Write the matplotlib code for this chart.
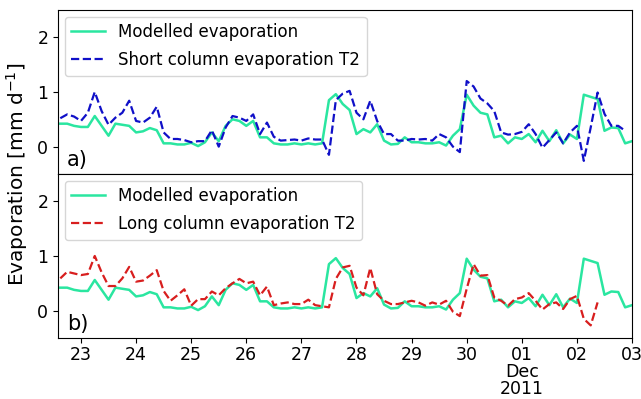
import numpy as np
import pandas as pd
import matplotlib
matplotlib.use('Agg')
import matplotlib.pyplot as plt
import matplotlib.dates as mdates

# 3-hourly time axis, 22 Nov 2011 15:00 -> 3 Dec 2011 00:00
times = pd.date_range('2011-11-22 15:00', '2011-12-03 00:00', freq='3h')

# Modelled evaporation [mm/d]
modelled = [
    0.42, 0.42, 0.38, 0.36, 0.36, 0.56, 0.38, 0.20, 0.42, 0.40,
    0.38, 0.26, 0.28, 0.34, 0.30, 0.06, 0.06, 0.04, 0.04, 0.07,
    0.01, 0.08, 0.26, 0.10, 0.38, 0.50, 0.47, 0.38, 0.47, 0.17,
    0.17, 0.06, 0.04, 0.04, 0.06, 0.04, 0.06, 0.04, 0.06, 0.85,
    0.96, 0.78, 0.67, 0.23, 0.32, 0.26, 0.41, 0.11, 0.04, 0.05,
    0.17, 0.08, 0.08, 0.06, 0.06, 0.08, 0.02, 0.20, 0.32, 0.95,
    0.75, 0.62, 0.59, 0.17, 0.20, 0.06, 0.17, 0.14, 0.23, 0.08,
    0.29, 0.10, 0.30, 0.06, 0.22, 0.14, 0.95, 0.91, 0.87, 0.29,
    0.35, 0.34, 0.06, 0.10,
]

# Short column evaporation T2 [mm/d]
short_t2 = [
    0.52, 0.59, 0.55, 0.47, 0.62, 1.00, 0.65, 0.40, 0.53, 0.62,
    0.84, 0.47, 0.44, 0.53, 0.73, 0.26, 0.14, 0.14, 0.12, 0.08,
    0.10, 0.10, 0.30, 0.00, 0.35, 0.56, 0.53, 0.47, 0.59, 0.23,
    0.44, 0.18, 0.11, 0.12, 0.13, 0.11, 0.15, 0.13, 0.13, -0.15,
    0.85, 0.97, 1.02, 0.62, 0.50, 0.84, 0.47, 0.23, 0.23, 0.11,
    0.11, 0.14, 0.13, 0.14, 0.11, 0.23, 0.17, 0.00, -0.10, 1.20,
    1.10, 0.88, 0.79, 0.65, 0.26, 0.22, 0.23, 0.27, 0.41, 0.23,
    -0.02, 0.12, 0.26, 0.06, 0.26, 0.38, -0.26, 0.35, 0.99, 0.60,
    0.38, 0.38, 0.29, np.nan,
]

# Long column evaporation T2 [mm/d]
long_t2 = [
    0.59, 0.71, 0.68, 0.65, 0.67, 1.00, 0.70, 0.45, 0.45, 0.59,
    0.80, 0.53, 0.55, 0.64, 0.74, 0.36, 0.18, 0.28, 0.39, 0.09,
    0.21, 0.21, 0.35, 0.28, 0.41, 0.50, 0.58, 0.50, 0.53, 0.28,
    0.44, 0.10, 0.13, 0.15, 0.12, 0.12, 0.20, 0.10, 0.08, 0.06,
    0.58, 0.79, 0.82, 0.42, 0.28, 0.78, 0.30, 0.18, 0.12, 0.12,
    0.15, 0.18, 0.15, 0.09, 0.15, 0.11, 0.18, -0.02, -0.10, 0.40,
    0.85, 0.64, 0.65, 0.24, 0.18, 0.09, 0.21, 0.24, 0.32, 0.18,
    0.02, 0.12, 0.15, 0.03, 0.21, 0.27, -0.15, -0.27, 0.15, np.nan,
    np.nan, np.nan, np.nan, np.nan,
]

green = '#2ae6a0'
blue = '#1010c8'
red = '#d81e1e'

plt.rcParams['font.family'] = 'DejaVu Sans'

fig, (ax1, ax2) = plt.subplots(2, 1, sharex=True, figsize=(6.41, 3.99), dpi=100)
fig.subplots_adjust(left=0.0905, right=0.986, top=0.975, bottom=0.153, hspace=0)

ax1.plot(times, modelled, color=green, lw=1.8, label='Modelled evaporation')
ax1.plot(times, short_t2, color=blue, lw=1.6, ls='--', label='Short column evaporation T2')
ax2.plot(times, modelled, color=green, lw=1.8, label='Modelled evaporation')
ax2.plot(times, long_t2, color=red, lw=1.6, ls='--', label='Long column evaporation T2')

for ax, tag in [(ax1, 'a)'), (ax2, 'b)')]:
    ax.set_ylim(-0.5, 2.5)
    ax.set_yticks([0, 1, 2])
    ax.tick_params(labelsize=12.5)
    ax.legend(loc='upper left', fontsize=12, framealpha=0.8, labelspacing=0.6,
              borderaxespad=0.4)
    ax.text(0.016, 0.05, tag, transform=ax.transAxes, fontsize=15)

ax1.tick_params(axis='x', bottom=False)

ax2.set_xlim(pd.Timestamp('2011-11-22 14:00'), pd.Timestamp('2011-12-03 00:00'))
ax2.xaxis.set_major_locator(mdates.DayLocator())


def day_label(x, pos):
    d = mdates.num2date(x)
    if d.day == 1:
        return d.strftime('%d\n%b\n%Y')
    return d.strftime('%d')


ax2.xaxis.set_major_formatter(plt.FuncFormatter(day_label))
ax2.tick_params(axis='x', pad=2)

fig.text(0.026, 0.564, 'Evaporation [mm d$^{-1}$]', rotation=90,
         va='center', ha='center', fontsize=14.5)

fig.canvas.draw()
for lab in ax2.get_xticklabels():
    lab.set_linespacing(0.95)

fig.savefig('out.png', dpi=100)
